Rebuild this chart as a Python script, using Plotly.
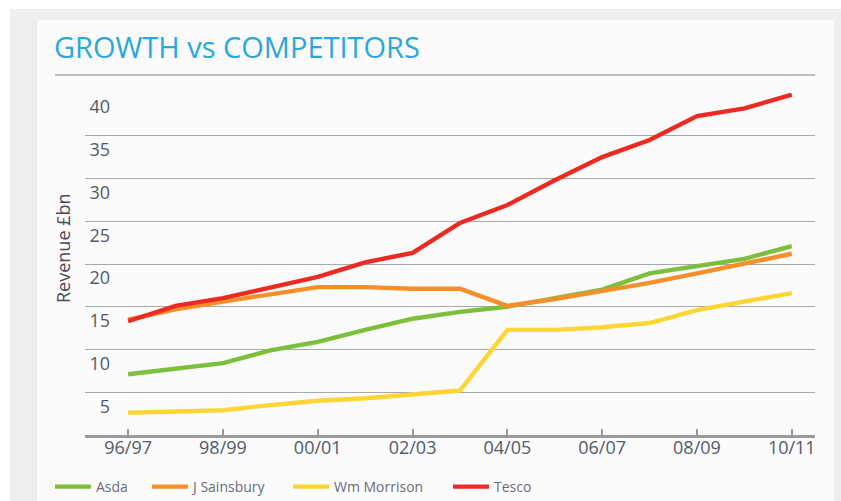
import plotly.graph_objects as go

years = ["96/97", "97/98", "98/99", "99/00", "00/01", "01/02", "02/03", "03/04",
         "04/05", "05/06", "06/07", "07/08", "08/09", "09/10", "10/11"]
tick_years = ["96/97", "98/99", "00/01", "02/03", "04/05", "06/07", "08/09", "10/11"]

asda = [7.1, 7.8, 8.4, 9.9, 10.9, 12.3, 13.6, 14.4, 15.0, 16.0, 17.0, 18.9, 19.7, 20.6, 22.1]
sainsbury = [13.5, 14.7, 15.6, 16.4, 17.3, 17.3, 17.1, 17.1, 15.1, 15.9, 16.8, 17.8, 18.9, 20.0, 21.2]
morrison = [2.6, 2.7, 2.9, 3.5, 4.0, 4.3, 4.7, 5.2, 12.3, 12.3, 12.6, 13.1, 14.6, 15.6, 16.6]
tesco = [13.3, 15.1, 16.0, 17.3, 18.5, 20.2, 21.3, 24.8, 26.9, 29.8, 32.5, 34.5, 37.3, 38.2, 39.8]

y_ticks = [5, 10, 15, 20, 25, 30, 35, 40]

series = [
    ("Asda", asda, "#7cbf3a", "legend"),
    ("J Sainsbury", sainsbury, "#f58f2a", "legend2"),
    ("Wm Morrison", morrison, "#fdd535", "legend3"),
    ("Tesco", tesco, "#ec2a22", "legend4"),
]

# pixel geometry of plot area
L, R, T, B = 85, 815, 93, 435
W, H = 841, 501


def px(x):
    return (x - L) / (R - L)


def py(y):
    return (B - y) / (B - T)


fig = go.Figure()
for name, vals, col, leg in series:
    fig.add_trace(go.Scatter(
        x=list(range(len(years))), y=vals, name=name, mode="lines",
        line=dict(color=col, width=4.4), legend=leg,
    ))

legend_x = {"legend": 50, "legend2": 147, "legend3": 288, "legend4": 448}
legend_common = dict(
    orientation="h", yanchor="middle", xanchor="left",
    bgcolor="rgba(0,0,0,0)", font=dict(family="Open Sans", size=14, color="#6a6c7c"),
    itemwidth=36, tracegroupgap=0,
)
legends = {}
for k, xv in legend_x.items():
    legends[k] = dict(x=px(xv), y=py(487), **legend_common)

shapes = [
    # outer page background
    dict(type="rect", xref="paper", yref="paper", x0=px(10), x1=px(841), y0=py(501), y1=py(9),
         fillcolor="#eceef0", line=dict(width=0), layer="below"),
    # panel
    dict(type="rect", xref="paper", yref="paper", x0=px(37), x1=px(834), y0=py(501), y1=py(20),
         fillcolor="#fbfbfb", line=dict(width=0), layer="below"),
    # line under title
    dict(type="line", xref="paper", yref="paper", x0=px(55), x1=px(815), y0=py(75), y1=py(75),
         line=dict(color="#a9a9a9", width=1.5), layer="below"),
]

annotations = [
    dict(text="GROWTH vs COMPETITORS", xref="paper", yref="paper", x=px(52), y=py(47),
         xanchor="left", yanchor="middle", showarrow=False,
         font=dict(family="Open Sans", size=29, color="#2aa8dc")),
    dict(text="Revenue £bn", xref="paper", yref="paper", x=px(63), y=py(248),
         xanchor="center", yanchor="middle", showarrow=False, textangle=-90,
         font=dict(family="Open Sans", size=18, color="#4a4a55")),
]

fig.update_layout(
    width=W, height=H,
    margin=dict(l=L, r=W - R, t=T, b=H - B, autoexpand=False),
    paper_bgcolor="white", plot_bgcolor="rgba(0,0,0,0)",
    showlegend=True,
    shapes=shapes, annotations=annotations,
    **legends,
)

fig.update_xaxes(
    range=[-0.91, 14.49],
    tickmode="array", tickvals=[years.index(t) for t in tick_years], ticktext=tick_years,
    showgrid=False, zeroline=False,
    showline=True, linecolor="#9a9a9a", linewidth=2.5,
    ticks="inside", ticklen=6, tickcolor="#9a9a9a", tickwidth=1.5,
    ticklabelstandoff=-5,
    tickfont=dict(family="Open Sans", size=18, color="#545a6a"),
    fixedrange=True,
)
fig.update_yaxes(
    range=[0, 40],
    tickmode="array", tickvals=y_ticks, ticktext=[str(v) for v in y_ticks],
    showgrid=True, gridcolor="#a8a8a8", gridwidth=1.3,
    zeroline=False, showline=False, ticks="",
    ticklabelstandoff=-26, ticklabelshift=14,
    tickfont=dict(family="Open Sans", size=18, color="#545a6a"),
    fixedrange=True,
)

fig.write_html("out.html", config={"displayModeBar": False},
               post_script="document.body.style.margin='0px';")
